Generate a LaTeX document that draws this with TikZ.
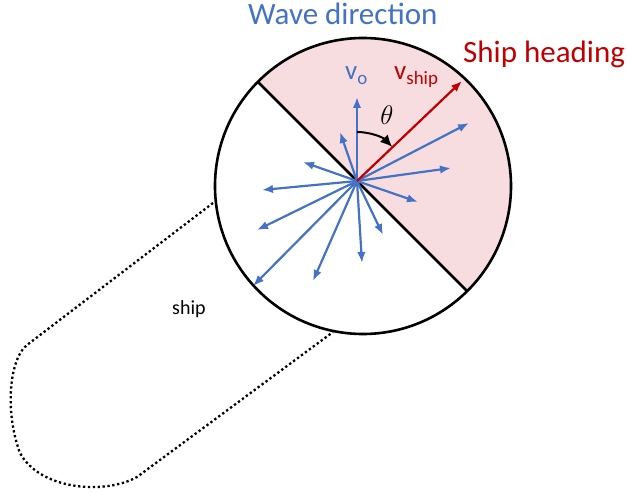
\documentclass[tikz,border=0pt]{standalone}
\usepackage{fix-cm}
\usepackage{fontspec}
\setmainfont{Carlito}
\usetikzlibrary{arrows.meta,calc}
\definecolor{waveblue}{RGB}{68,114,196}
\definecolor{shipred}{RGB}{192,0,0}
\definecolor{sectorpink}{RGB}{247,221,223}
\tikzset{
    wave/.style={draw=waveblue, line width=2.2pt, -{Latex[length=11pt, width=8.5pt]}},
    heading/.style={draw=shipred, line width=2.2pt, -{Latex[length=11pt, width=8.5pt]}},
    rim/.style={black, line width=2.6pt},
    hull/.style={black, line width=2.3pt, dash pattern=on 2.3pt off 2.6pt},
    anglearrow/.style={black, line width=2pt, -{Latex[length=12pt, width=11pt]}},
    bigtext/.style={inner sep=0pt, anchor=base west, font=\fontsize{31}{36}\selectfont},
    veltext/.style={inner sep=0pt, anchor=base west, font=\fontsize{27}{30}\selectfont},
}

\begin{document}
\begin{tikzpicture}[x=1pt, y=-1pt]
    \useasboundingbox (0,0) rectangle (627,494);
    \coordinate (c) at (363,186);
    \coordinate (o) at (357,181);
    \coordinate (p) at (258,82);
    \coordinate (q) at (467,291);
    % shaded half of the disc
    \begin{scope}
        \clip (c) circle[radius=148];
        \fill[sectorpink] (150,-26) -- (680,504) -- (700,-100) -- cycle;
    \end{scope}
    % ship outline
    \coordinate (h1) at (213,203);
    \coordinate (h2) at (333,332);
    \draw[hull] (h1) -- (27,345) .. controls (10,358) and (4,410) .. (20,453)
        .. controls (40,490) and (105,495) .. (137,477) -- (h2);
    \draw[rim] (p) -- (q);
    \draw[rim] (c) circle[radius=148];
    % wave directions
    \foreach \x/\y/\k in {357/97/1, 340/132/2, 303/162/3, 262/190/4, 257/230/5, 253/286/6,
                          313/281/7, 362/263/8, 383/235/9, 418/202/10, 451/168/11, 469/123/12} {
        \coordinate (w\k) at (\x,\y);
        \draw[wave] (o) -- (w\k);
    }
    \coordinate (vs) at (462,81);
    \draw[heading] (o) -- (vs);
    \coordinate (a1) at (357,132);
    \draw[anglearrow] (a1) arc[start angle=-90, end angle=-44, radius=49];
    % labels
    \node[bigtext, text=waveblue] (wavelabel) at (248,25) {Wave direction};
    \node[bigtext, text=shipred] (headlabel) at (463,63) {Ship heading};
    \node[veltext, text=waveblue] (vo) at (345,80) {v\textsubscript{o}};
    \node[veltext, text=shipred] (vship) at (394,80) {v\textsubscript{ship}};
    \node[font=\fontsize{27}{30}\selectfont] (theta) at (387,115) {$\theta$};
    \node[inner sep=0pt, anchor=base west, font=\fontsize{20}{24}\selectfont] (shiplabel) at (172,315) {ship};
\end{tikzpicture}
\end{document}
